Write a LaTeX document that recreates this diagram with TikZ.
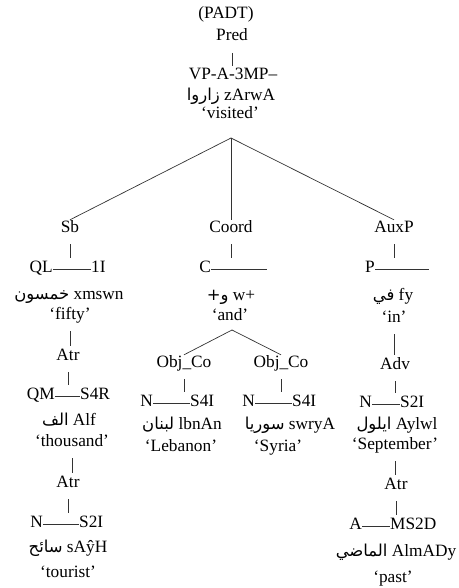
\documentclass[tikz,border=0pt]{standalone}
\usepackage{fontspec}
\setmainfont{Liberation Serif}
\newfontfamily\arabicfont[Script=Arabic,Scale=0.95]{DejaVu Sans}
\TeXXeTstate=1
\usetikzlibrary{calc}
\newcommand\arb[1]{{\arabicfont\beginR #1\endR}}
\newcommand\treetick[2]{\draw[edge] ($(#1)+(0,16)$) -- ($(#1 |- #2)+(0,-10)$);}
\begin{document}
\begin{tikzpicture}[x=1pt,y=-1pt,
  t/.style={font=\fontsize{17.3}{20}\selectfont, inner sep=0pt, text height=12pt, text depth=4pt},
  edge/.style={line width=0.7pt, black!80},
  rule/.style={edge, yshift=1.8pt}]
\useasboundingbox (0,0) rectangle (458,588);
% top
\node[t] (padt) at (226,15) {(PADT)};
\node[t] (pred) at (232,37) {Pred};
\node[t] (vp) at (233,76) {VP-A-3MP–};
\node[t] (zarwa) at (231,97) {\arb{زاروا} zArwA};
\node[t] (visited) at (230,115) {‘visited’};
\coordinate (apex) at (231,138);
\node[t] (sb) at (70,228) {Sb};
\node[t] (coord) at (231,228) {Coord};
\node[t] (auxp) at (394,228) {AuxP};
% row of tags
\node[t,anchor=east] (ql) at (53,268) {QL};
\node[t,anchor=west] (qlr) at (91,268) {1I};
\node[t,anchor=east] (c) at (211,268) {C};
\coordinate (cend) at (267,268);
\node[t,anchor=east] (p) at (375,268) {P};
\coordinate (pend) at (429,268);
\node[t] (xmswn) at (69,295) {\arb{خمسون} xmswn};
\node[t] (wplus) at (231,296) {\arb{و+} w+};
\node[t] (fy) at (393,296) {\arb{في} fy};
\node[t] (fifty) at (70,315) {‘fifty’};
\node[t] (and) at (230,316) {‘and’};
\node[t] (in) at (394,318) {‘in’};
% left column
\node[t] (atr1) at (68,356) {Atr};
\node[t,anchor=east] (qm) at (55,395) {QM};
\node[t,anchor=west] (qmr) at (80,395) {S4R};
\node[t] (alf) at (69,421) {\arb{الف} Alf};
\node[t] (thousand) at (72,442) {‘thousand’};
\node[t] (atr2) at (68,483) {Atr};
\node[t,anchor=east] (n1) at (43,523) {N};
\node[t,anchor=west] (n1r) at (79,523) {S2I};
\node[t] (sayh) at (68,548) {\arb{سائح} sAŷH};
\node[t] (tourist) at (68,573) {‘tourist’};
% middle column
\coordinate (apex2) at (232,330);
\node[t] (obj1) at (184,363) {Obj\_Co};
\node[t] (obj2) at (281,363) {Obj\_Co};
\node[t,anchor=east] (n2) at (153,402) {N};
\node[t,anchor=west] (n2r) at (190,402) {S4I};
\node[t,anchor=east] (n3) at (255,402) {N};
\node[t,anchor=west] (n3r) at (292,402) {S4I};
\node[t] (lbnan) at (182,425) {\arb{لبنان} lbnAn};
\node[t] (swrya) at (290,425) {\arb{سوريا} swryA};
\node[t] (lebanon) at (181,447) {‘Lebanon’};
\node[t] (syria) at (278,447) {‘Syria’};
% right column
\node[t] (adv) at (395,365) {Adv};
\node[t,anchor=east] (n4) at (372,403) {N};
\node[t,anchor=west] (n4r) at (400,403) {S2I};
\node[t] (aylwl) at (397,425) {\arb{ايلول} Aylwl};
\node[t] (september) at (395,445) {‘September’};
\node[t] (atr3) at (396,485) {Atr};
\node[t,anchor=east] (a) at (362,525) {A};
\node[t,anchor=west] (ar) at (390,525) {MS2D};
\node[t] (almady) at (396,552) {\arb{الماضي} AlmADy};
\node[t] (past) at (393,578) {‘past’};
% connectors
\draw[edge] (apex) -- (sb.north);
\draw[edge] (apex) -- (coord.north);
\draw[edge] (apex) -- (auxp.north);
\draw[edge] (apex2) -- (obj1.north);
\draw[edge] (apex2) -- (obj2.north);
\draw[rule] (ql.mid east) -- (qlr.mid west);
\draw[rule] (c.mid east) -- (c.mid east -| cend);
\draw[rule] (p.mid east) -- (p.mid east -| pend);
\draw[rule] (qm.mid east) -- (qmr.mid west);
\draw[rule] (n1.mid east) -- (n1r.mid west);
\draw[rule] (n2.mid east) -- (n2r.mid west);
\draw[rule] (n3.mid east) -- (n3r.mid west);
\draw[rule] (n4.mid east) -- (n4r.mid west);
\draw[rule] (a.mid east) -- (ar.mid west);
\treetick{pred}{vp}
\treetick{sb}{ql}
\treetick{coord}{c}
\treetick{auxp}{p}
\treetick{fifty}{atr1}
\treetick{atr1}{qm}
\treetick{thousand}{atr2}
\treetick{atr2}{n1}
\treetick{obj1}{n2}
\treetick{obj2}{n3}
\treetick{in}{adv}
\treetick{adv}{n4}
\treetick{september}{atr3}
\treetick{atr3}{a}
\end{tikzpicture}
\end{document}
